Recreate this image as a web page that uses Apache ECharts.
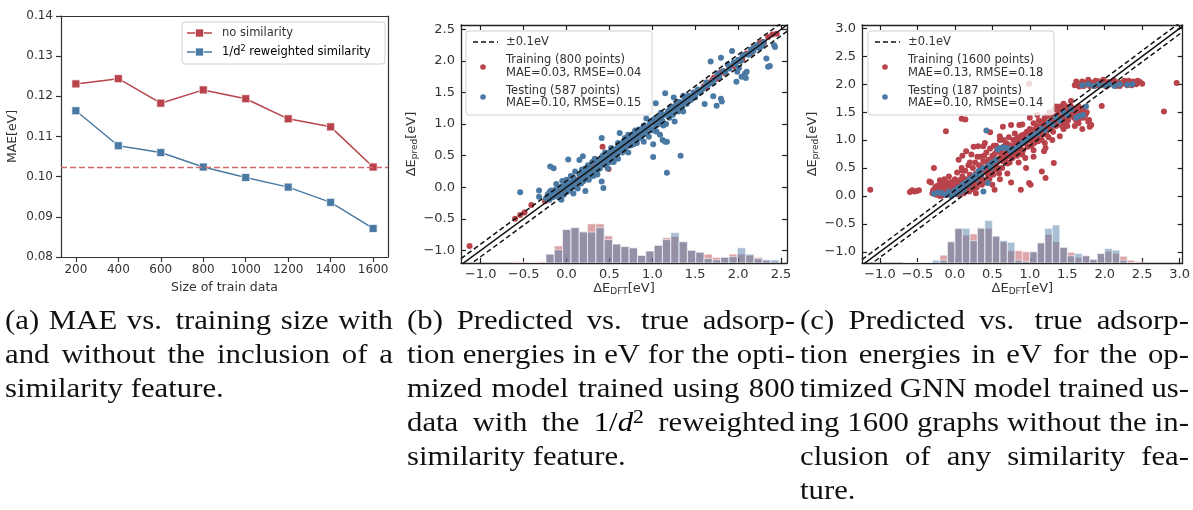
<!DOCTYPE html>
<html>
<head>
<meta charset="utf-8">
<script src="https://cdn.jsdelivr.net/npm/echarts@6/dist/echarts.min.js"></script>
<style>html,body{margin:0;padding:0;background:#fff}#c{width:1193px;height:510px}</style>
</head>
<body>
<div id="c"></div>
<script>
// ---------------- DATA ----------------
const A_SIZES = [200, 400, 600, 800, 1000, 1200, 1400, 1600];
const A_MAE_NOSIM = [0.1231, 0.1244, 0.1183, 0.1216, 0.1194, 0.1144, 0.1124, 0.1024];
const A_MAE_SIM = [0.1164, 0.1077, 0.1060, 0.1024, 0.0998, 0.0974, 0.0936, 0.0871];
const A_BASELINE = 0.1024;
const A_Y_TICKS = [0.08, 0.09, 0.10, 0.11, 0.12, 0.13, 0.14];

const B_TICKS = [-1.0, -0.5, 0.0, 0.5, 1.0, 1.5, 2.0, 2.5];
const C_TICKS = [-1.0, -0.5, 0.0, 0.5, 1.0, 1.5, 2.0, 2.5, 3.0];

const B_TRAIN = [[-1.13,-0.93],[-0.6,-0.5],[-0.54,-0.44],[-0.49,-0.4],[-0.41,-0.28],[-0.25,-0.22],[-0.2,-0.17],[-0.15,-0.12],[-0.1,-0.08],[-0.05,-0.03],[0.0,0.02],[0.05,0.03],[0.1,0.12],[0.15,0.13],[0.2,0.22],[0.25,0.2],[0.34,0.2],[0.3,0.32],[0.4,0.38],[0.42,0.64],[0.49,0.29],[0.5,0.52],[0.6,0.58],[0.7,0.72],[0.8,0.78],[0.86,0.86],[0.9,0.88],[1.0,1.02],[1.1,1.08],[1.2,1.22],[1.3,1.28],[1.4,1.42],[1.5,1.48],[1.6,1.6],[1.64,1.66],[1.68,1.66],[1.72,1.74],[1.76,1.72],[1.8,1.82],[1.85,1.8],[1.9,1.9],[1.95,1.92],[2.0,2.0],[2.05,2.02],[2.1,2.12],[2.15,2.12],[2.2,2.22],[2.25,2.28],[2.3,2.28],[2.35,2.38],[2.4,2.42],[2.45,2.43],[2.18,2.2],[2.28,2.3],[1.62,1.58],[1.7,1.7]];
const B_TEST = [[-0.54,-0.08],[-0.32,-0.05],[-0.32,-0.15],[-0.19,0.33],[-0.15,0.30],[-0.22,-0.12],[-0.2,-0.2],[-0.18,-0.05],[-0.15,-0.1],[-0.12,0.05],[-0.1,-0.15],[-0.08,0.0],[-0.06,-0.2],[-0.05,0.1],[-0.04,-0.02],[-0.02,0.05],[0.0,-0.08],[0.0,0.12],[0.02,0.44],[0.02,0.02],[0.04,-0.05],[0.05,0.18],[0.06,0.08],[0.08,-0.1],[0.08,0.15],[0.1,0.05],[0.1,0.25],[0.12,0.1],[0.13,-0.02],[0.15,0.43],[0.15,0.2],[0.16,0.12],[0.18,0.28],[0.19,0.49],[0.2,0.1],[0.2,0.22],[0.22,-0.06],[0.22,0.3],[0.24,0.18],[0.25,0.35],[0.27,0.2],[0.28,0.3],[0.3,0.4],[0.3,0.22],[0.32,0.28],[0.33,0.45],[0.35,0.32],[0.36,0.2],[0.38,0.42],[0.4,0.35],[0.41,0.78],[0.41,0.09],[0.42,0.5],[0.43,-0.01],[0.44,0.38],[0.45,0.55],[0.47,0.42],[0.48,0.3],[0.5,0.55],[0.5,0.45],[0.52,0.62],[0.54,0.5],[0.55,0.4],[0.57,0.6],[0.58,0.52],[0.6,0.7],[0.6,0.45],[0.62,0.86],[0.63,0.6],[0.65,0.55],[0.66,0.72],[0.68,0.78],[0.68,0.6],[0.7,0.65],[0.72,0.83],[0.72,0.55],[0.74,0.72],[0.76,0.8],[0.78,0.68],[0.8,0.9],[0.8,0.75],[0.82,0.7],[0.84,0.91],[0.85,0.82],[0.87,0.78],[0.89,0.88],[0.9,0.98],[0.9,0.72],[0.92,0.85],[0.93,1.09],[0.95,0.95],[0.96,0.8],[0.98,1.02],[1.0,0.9],[1.01,0.48],[1.01,0.68],[1.02,1.05],[1.03,1.09],[1.04,0.97],[1.04,1.33],[1.05,0.88],[1.07,1.1],[1.08,1.0],[1.09,0.83],[1.1,1.18],[1.12,0.75],[1.12,1.05],[1.14,1.15],[1.15,0.72],[1.15,1.49],[1.16,1.0],[1.17,0.72],[1.17,0.23],[1.18,1.2],[1.2,1.1],[1.22,1.28],[1.24,1.15],[1.25,1.42],[1.26,1.04],[1.27,1.25],[1.3,1.2],[1.32,1.35],[1.33,0.50],[1.35,1.28],[1.36,1.45],[1.36,1.2],[1.38,1.4],[1.4,1.32],[1.42,1.45],[1.45,1.38],[1.48,1.5],[1.5,1.42],[1.53,1.55],[1.56,1.5],[1.6,1.58],[1.61,1.32],[1.65,1.62],[1.68,1.99],[1.7,1.65],[1.71,1.44],[1.75,1.29],[1.78,1.75],[1.8,2.05],[1.8,1.4],[1.81,1.36],[1.85,1.82],[1.9,1.88],[1.93,2.16],[1.95,1.98],[1.98,1.67],[1.99,1.83],[2.0,2.02],[2.01,1.89],[2.04,1.75],[2.05,2.08],[2.08,1.8],[2.09,1.73],[2.1,1.83],[2.12,2.1],[2.15,2.18],[2.2,2.22],[2.25,2.2],[2.3,2.3],[2.33,2.04],[2.35,1.91],[2.37,1.92],[2.42,2.25],[2.43,2.22],
  [-0.24,-0.18],[-0.2,-0.08],[-0.16,-0.16],[-0.13,-0.04],[-0.11,-0.1],[-0.07,-0.1],[-0.03,-0.12],[0.01,-0.03],[0.03,0.08],[0.07,0.02],[0.09,0.12],[0.11,0.0],[0.14,0.08],[0.17,0.06],[0.19,0.18],[0.21,0.14],[0.23,0.25],[0.26,0.12],[0.29,0.26],[0.31,0.18],[0.34,0.38],[0.37,0.28],[0.39,0.3],[0.43,0.46],[0.46,0.35],[0.49,0.48],[0.51,0.4],[0.53,0.56],[0.56,0.47],[0.59,0.62],[0.61,0.55],[0.64,0.66],[0.67,0.58],[0.69,0.74],[0.71,0.68],[0.73,0.76],[0.75,0.66],[0.77,0.84],[0.79,0.74],[0.81,0.82],[0.83,0.78],[0.86,0.92],[0.88,0.82],[0.91,0.9],[0.94,0.86],[0.97,1.0],[0.99,0.92],[1.01,1.06],[1.06,1.02],[1.11,1.12],[1.13,0.98],[1.19,1.12],[1.21,1.25],[1.23,1.18],[1.28,1.32],[1.31,1.26],[1.34,1.3],[1.39,1.36],[1.44,1.42],[1.47,1.44],[1.52,1.5],[1.58,1.55],[1.63,1.66],[1.72,1.7],[1.76,1.8],[1.83,1.84],[1.88,1.95],[1.97,1.95],[2.03,2.0],[2.07,2.1],[2.14,2.12],[2.18,2.16],[2.22,2.25],[2.28,2.24]];

const C_TRAIN = [[-1.13,0.11],[-0.6,0.07],[-0.57,0.1],[-0.54,0.08],[-0.51,0.09],[-0.48,0.1],[-0.34,0.26],[-0.32,0.24],[-0.28,0.5],[-0.3,0.05],[-0.27,0.12],[-0.25,0.02],[-0.24,0.18],[-0.22,0.08],[-0.2,0.28],[-0.2,0.0],[-0.18,0.14],[-0.16,0.22],[-0.15,0.05],[-0.14,0.3],[-0.12,0.1],[-0.1,0.18],[-0.1,0.02],[-0.08,0.35],[-0.06,0.12],[-0.05,0.25],[-0.04,0.06],[-0.02,0.15],[0.0,0.3],[0.0,0.05],[0.02,0.2],[0.03,0.42],[0.05,0.1],[0.06,0.28],[0.08,0.15],[0.09,0.5],[0.1,0.35],[0.12,0.22],[0.12,0.05],[0.14,0.45],[0.15,0.3],[0.16,0.15],[0.18,0.55],[0.2,0.38],[0.22,0.74],[0.22,0.25],[0.24,0.5],[0.25,0.12],[0.27,0.6],[0.28,0.4],[0.3,0.3],[0.31,0.89],[0.32,0.55],[0.34,0.7],[0.35,0.45],[0.36,0.2],[0.38,0.89],[0.38,0.62],[0.4,0.5],[0.42,0.24],[0.42,0.78],[0.44,0.38],[0.45,0.65],[0.47,0.85],[0.48,0.55],[0.5,0.42],[0.5,0.72],[0.52,0.9],[0.53,0.11],[0.54,0.6],[0.56,0.8],[0.58,0.5],[0.6,0.68],[0.6,1.0],[0.62,0.85],[0.64,1.24],[0.64,0.62],[0.66,0.75],[0.68,0.95],[0.7,0.58],[0.7,0.82],[0.72,1.05],[0.74,0.7],[0.75,0.24],[0.75,1.27],[0.76,0.9],[0.78,1.0],[0.8,0.78],[0.8,1.12],[0.82,0.92],[0.84,1.05],[0.86,1.27],[0.86,0.85],[0.88,0.11],[0.88,1.0],[0.9,1.28],[0.9,0.74],[0.92,1.1],[0.94,0.68],[0.94,0.95],[0.96,1.15],[0.98,1.0],[0.99,0.23],[0.99,2.01],[1.0,1.2],[1.01,0.2],[1.02,0.9],[1.04,1.1],[1.05,1.3],[1.06,0.95],[1.08,1.2],[1.1,1.05],[1.12,1.35],[1.14,1.15],[1.16,0.44],[1.16,1.0],[1.18,1.25],[1.19,0.8],[1.2,1.4],[1.21,0.86],[1.21,0.32],[1.22,1.1],[1.24,1.3],[1.26,1.5],[1.28,1.2],[1.3,1.35],[1.32,0.59],[1.33,1.55],[1.35,1.25],[1.37,1.45],[1.4,1.07],[1.4,1.6],[1.42,1.35],[1.45,1.5],[1.48,1.3],[1.5,1.55],[1.52,1.42],[1.55,1.6],[1.58,1.45],[1.6,1.55],[1.62,1.35],[1.65,1.6],[1.67,1.54],[1.69,1.45],[1.72,1.4],[1.78,1.33],[1.79,1.36],[1.8,1.24],[1.82,1.27],[1.96,1.61],[2.79,1.51],[2.96,2.02],[1.6,1.98],[1.63,2.02],[1.66,1.96],[1.7,2.05],[1.74,2.0],[1.78,2.08],[1.8,1.97],[1.84,2.03],[1.88,2.06],[1.9,1.98],[1.94,2.02],[1.98,2.08],[2.02,1.96],[2.05,2.04],[2.08,2.0],[2.12,2.07],[2.15,1.97],[2.18,2.03],[2.22,2.0],[2.26,2.06],[2.3,1.98],[2.34,2.02],[2.38,2.05],[2.42,2.0],[2.47,2.04],[-0.12,1.16],[0.09,1.38],[0.14,1.37],[0.47,1.14],[0.6,1.07],[0.05,0.02],[0.15,0.12],[0.25,0.28],[0.35,0.35],[0.45,0.42],[0.55,0.55],[0.65,0.68],[0.75,0.75],[0.85,0.82],[0.95,0.98],[1.05,1.05],[1.15,1.12],[1.25,1.25],[1.35,1.32],[1.45,1.45],[1.55,1.5],[0.28,0.05],[0.2,0.6],[0.1,0.45],[0.3,0.7],[0.4,0.95],[0.5,0.2],[0.6,0.3],[0.7,0.4],[0.55,0.9],[0.65,1.0],[0.85,0.6],[0.95,0.5],[1.05,0.7],[1.1,1.45],[1.0,1.4],[1.2,0.95],[1.3,1.0],[1.45,1.2],[1.5,1.25],[1.55,1.7],[1.6,1.25],[1.65,1.3],[1.45,1.65],[1.35,1.6],[1.7,1.2],[0.05,0.65],[0.1,0.72],[0.15,0.8],[0.25,0.88],
  [-0.29,0.1],[-0.26,0.16],[-0.23,0.03],[-0.21,0.2],[-0.19,0.07],[-0.17,0.01],[-0.13,0.16],[-0.11,0.24],[-0.09,0.08],[-0.07,0.2],[-0.03,0.1],[-0.01,0.22],[0.01,0.12],[0.04,0.26],[0.07,0.06],[0.09,0.2],[0.11,0.3],[0.13,0.1],[0.17,0.24],[0.19,0.08],[0.21,0.16],[0.23,0.34],[0.26,0.22],[0.29,0.15],
  [0.31,0.36],[0.33,0.25],[0.36,0.52],[0.37,0.3],[0.39,0.72],[0.41,0.44],[0.43,0.6],[0.46,0.3],[0.46,0.5],[0.49,0.65],[0.51,0.38],[0.53,0.75],[0.55,0.48],[0.57,0.62],[0.59,0.4],[0.61,0.78],[0.63,0.5],[0.65,0.88],[0.67,0.65],[0.69,0.72],[0.71,0.92],[0.73,0.6],[0.73,0.8],[0.77,0.68],[0.79,0.88],[0.81,1.0],[0.83,0.72],[0.85,0.95],[0.87,0.9],[0.89,1.08],[0.91,0.82],[0.93,1.02],[0.97,0.88],[0.99,1.1],
  [1.01,1.0],[1.03,1.18],[1.05,0.82],[1.07,1.05],[1.09,1.25],[1.11,0.98],[1.13,1.2],[1.15,1.3],[1.17,1.1],[1.19,1.35],[1.21,1.18],[1.23,1.42],[1.25,1.05],[1.27,1.3],[1.29,1.45],[1.31,1.15],[1.34,1.42],[1.36,1.3],[1.38,1.52],[1.41,1.4],[1.43,1.25],[1.44,1.55],[1.47,1.4],[1.49,1.6],[1.51,1.35],[1.54,1.48],[1.57,1.55],[1.59,1.4],[1.61,1.5],[1.63,1.45],[1.66,1.38],[1.68,1.5],[1.71,1.55],[1.74,1.45],[1.76,1.5],
  [1.62,2.05],[1.68,1.99],[1.72,1.97],[1.76,2.03],[1.82,2.0],[1.86,1.97],[1.92,2.05],[1.96,1.99],[2.0,2.03],[2.04,1.98],[2.1,2.02],[2.14,2.04],[2.2,1.97],[2.24,2.03],[2.28,2.01],[2.32,2.06],[2.36,1.98],[2.4,2.03],[2.44,2.06],[2.5,2.01]];
const C_TEST = [[-0.28,0.04],[-0.22,0.06],[-0.17,0.05],[-0.12,0.02],[-0.08,0.08],[-0.05,0.0],[0.0,0.1],[0.02,0.04],[0.05,0.15],[0.08,0.08],[0.1,0.2],[0.12,0.12],[0.15,0.25],[0.18,0.2],[0.2,0.3],[0.22,0.28],[0.25,0.35],[0.28,0.3],[0.3,0.4],[0.32,0.45],[0.35,0.38],[0.38,0.08],[0.38,0.5],[0.42,1.17],[0.44,0.23],[0.45,0.55],[0.48,0.5],[0.5,0.6],[0.55,0.65],[0.57,0.83],[0.6,0.86],[0.64,0.87],[0.68,0.86],[0.72,0.85],[0.75,0.8],[0.8,0.85],[0.85,0.9],[0.9,0.95],[0.95,1.0],[1.0,1.05],[1.05,1.1],[1.1,1.12],[1.15,1.2],[1.2,1.18],[1.25,1.3],[1.3,1.28],[1.35,1.4],[1.4,1.35],[1.45,1.5],[1.5,1.45],[1.55,1.55],[1.62,1.4],[1.66,1.43],[1.71,1.45],[1.75,1.6],[1.7,1.98],[1.78,2.0],[1.85,1.97],[1.92,2.0],[2.0,1.98],[2.06,2.0],[2.13,1.97],[2.2,2.0],[2.3,1.99],[2.37,2.0]];

// histograms (bin start, bin width, bar heights in eV-axis units above the bottom)
const B_HIST_START = -0.628, B_HIST_WIDTH = 0.097;
const B_HIST_TRAIN = [0.02,0.02,0.015,0.02, 0.14,0.27,0.53,0.56,0.48,0.62,0.62,0.43,0.30,0.26,0.24,0.12,0.19,0.28,0.40,0.42,0.33,0.20,0.17,0.14,0.09,0.09,0.14,0.14,0.12,0.09,0.04,0.02];
const B_HIST_TEST  = [0,0,0,0, 0.14,0.21,0.53,0.56,0.50,0.49,0.56,0.37,0.30,0.26,0.24,0.12,0.19,0.28,0.37,0.48,0.34,0.20,0.17,0.07,0.05,0.09,0.10,0.24,0.14,0.07,0.05,0.05];
const C_HIST_START = -0.70, C_HIST_WIDTH = 0.10;
const C_HIST_TRAIN = [0,0.015,0,0, 0,0.14,0.38,0.62,0.50,0.52,0.63,0.62,0.48,0.38,0.22,0.22,0.20,0.20,0.36,0.51,0.38,0.28,0.19,0.10,0.13,0.07,0.17,0.21,0.17,0.12,0.05,0.03];
const C_HIST_TEST  = [0,0,0,0, 0.05,0.05,0.38,0.62,0.62,0.40,0.62,0.76,0.48,0.40,0.37,0.05,0.03,0.20,0.36,0.62,0.68,0.28,0.13,0.17,0.13,0.06,0.17,0.26,0.23,0.05,0,0];

// ---------------- STYLE / LAYOUT ----------------
const RED = '#b8434b', BLUE = '#4a7aa3';
const A_XLIM = [130, 1670];
const B_XLIM = [-1.23, 2.57], B_YLIM = [-1.2, 2.57];
const C_XLIM = [-1.24, 3.04], C_YLIM = [-1.2, 3.06];
const SANS = 'DejaVu Sans';
const fmt = v => (v < 0 ? '\u2212' : '') + Math.abs(v).toFixed(1);

function histData(start, w, h) { return h.map((v, i) => [start + i * w, start + (i + 1) * w, v]); }
function histSeries(xi, yi, ymin, data, fill) {
  return {
    type: 'custom', xAxisIndex: xi, yAxisIndex: yi, z: 1, silent: true, clip: true,
    data: data,
    renderItem: function (params, api) {
      const p0 = api.coord([api.value(0), ymin]);
      const p1 = api.coord([api.value(1), ymin + api.value(2)]);
      return { type: 'rect', shape: { x: p0[0], y: p1[1], width: p1[0] - p0[0], height: p0[1] - p1[1] },
        style: { fill: fill, stroke: 'rgba(255,255,255,0.55)', lineWidth: 1 } };
    }
  };
}
function diagSeries(xi, yi, xlim, off, dashed) {
  return { type: 'line', xAxisIndex: xi, yAxisIndex: yi, z: 5, silent: true, symbol: 'none', clip: true,
    data: [[xlim[0], xlim[0] + off], [xlim[1], xlim[1] + off]],
    lineStyle: { color: '#111', width: 1.5, type: dashed ? [5, 3] : 'solid' } };
}
function scatterSeries(xi, yi, data, color) {
  return { type: 'scatter', xAxisIndex: xi, yAxisIndex: yi, z: 3, symbolSize: 6, data: data,
    itemStyle: { color: color, opacity: 1 } };
}
const spine = (c, w) => ({ show: true, onZero: false, lineStyle: { color: c, width: w } });

function scatterAxes(gi, xlim, ylim, ticks, xName, yName) {
  const rich = { a: { fontSize: 13, fontFamily: SANS, color: '#333' }, s: { fontSize: 9, fontFamily: SANS, color: '#333', padding: [7, 0, 0, 0] } };
  const tick = { inside: true, length: 5, lineStyle: { color: '#222', width: 1.2 }, customValues: ticks };
  const xs = [
    { gridIndex: gi, type: 'value', position: 'bottom', min: xlim[0], max: xlim[1],
      axisLine: spine('#222', 1.3), splitLine: { show: false }, axisTick: tick,
      axisLabel: { customValues: ticks, formatter: fmt, fontSize: 13, fontFamily: SANS, color: '#333', margin: 5 },
      name: xName, nameLocation: 'middle', nameGap: 17, nameTextStyle: { rich: rich } },
    { gridIndex: gi, type: 'value', position: 'top', min: xlim[0], max: xlim[1],
      axisLine: spine('#222', 1.3), splitLine: { show: false }, axisTick: tick, axisLabel: { show: false } }
  ];
  const ys = [
    { gridIndex: gi, type: 'value', position: 'left', min: ylim[0], max: ylim[1],
      axisLine: spine('#222', 1.3), splitLine: { show: false }, axisTick: tick,
      axisLabel: { customValues: ticks, formatter: fmt, fontSize: 13, fontFamily: SANS, color: '#333', margin: 6 },
      name: yName, nameLocation: 'middle', nameGap: 31, nameTextStyle: { rich: rich } },
    { gridIndex: gi, type: 'value', position: 'right', min: ylim[0], max: ylim[1],
      axisLine: spine('#222', 1.3), splitLine: { show: false }, axisTick: tick, axisLabel: { show: false } }
  ];
  return [xs, ys];
}

const [bx, by] = scatterAxes(1, B_XLIM, B_YLIM, B_TICKS, '{a|ΔE}{s|DFT}{a|[eV]}', '{a|ΔE}{s|pred}{a|[eV]}');
const [cx, cy] = scatterAxes(2, C_XLIM, C_YLIM, C_TICKS, '{a|ΔE}{s|DFT}{a|[eV]}', '{a|ΔE}{s|pred}{a|[eV]}');

const xAxis = [
  { gridIndex: 0, type: 'value', position: 'bottom', min: A_XLIM[0], max: A_XLIM[1],
    axisLine: spine('#333', 1.2), splitLine: { show: false },
    axisTick: { inside: false, length: 5, lineStyle: { color: '#333', width: 1.2 }, customValues: A_SIZES },
    axisLabel: { customValues: A_SIZES, formatter: v => String(v), fontSize: 12, fontFamily: SANS, color: '#333', margin: 7 },
    name: 'Size of train data', nameLocation: 'middle', nameGap: 24,
    nameTextStyle: { fontSize: 12.5, fontFamily: SANS, color: '#333' } },
  { gridIndex: 0, type: 'value', position: 'top', min: A_XLIM[0], max: A_XLIM[1],
    axisLine: spine('#333', 1.2), splitLine: { show: false }, axisTick: { show: false }, axisLabel: { show: false } },
  ...bx, ...cx
];
const yAxis = [
  { gridIndex: 0, type: 'value', position: 'left', min: 0.08, max: 0.14, interval: 0.01,
    axisLine: spine('#333', 1.2), splitLine: { show: false },
    axisTick: { inside: false, length: 5, lineStyle: { color: '#333', width: 1.2 } },
    axisLabel: { formatter: v => v.toFixed(2), fontSize: 12, fontFamily: SANS, color: '#333', margin: 8 },
    name: 'MAE[eV]', nameLocation: 'middle', nameGap: 42,
    nameTextStyle: { fontSize: 12.5, fontFamily: SANS, color: '#333' } },
  { gridIndex: 0, type: 'value', position: 'right', min: 0.08, max: 0.14,
    axisLine: spine('#333', 1.2), splitLine: { show: false }, axisTick: { show: false }, axisLabel: { show: false } },
  ...by, ...cy
];

const series = [
  { type: 'line', xAxisIndex: 0, yAxisIndex: 0, z: 4, data: A_SIZES.map((x, i) => [x, A_MAE_NOSIM[i]]),
    symbol: 'rect', symbolSize: 8, lineStyle: { color: RED, width: 1.5 },
    itemStyle: { color: RED, borderColor: 'rgba(255,255,255,0.7)', borderWidth: 1 },
    markLine: { silent: true, symbol: 'none', precision: 6, label: { show: false }, animation: false,
      lineStyle: { color: '#d0686c', width: 1.4, type: [6, 3] }, data: [{ yAxis: A_BASELINE }] } },
  { type: 'line', xAxisIndex: 0, yAxisIndex: 0, z: 4, data: A_SIZES.map((x, i) => [x, A_MAE_SIM[i]]),
    symbol: 'rect', symbolSize: 8, lineStyle: { color: BLUE, width: 1.5 },
    itemStyle: { color: BLUE, borderColor: 'rgba(255,255,255,0.7)', borderWidth: 1 } },

  histSeries(2, 2, B_YLIM[0], histData(B_HIST_START, B_HIST_WIDTH, B_HIST_TRAIN), 'rgba(184,67,75,0.48)'),
  histSeries(2, 2, B_YLIM[0], histData(B_HIST_START, B_HIST_WIDTH, B_HIST_TEST), 'rgba(74,122,163,0.48)'),
  scatterSeries(2, 2, B_TRAIN, RED),
  scatterSeries(2, 2, B_TEST, BLUE),
  diagSeries(2, 2, B_XLIM, 0, false), diagSeries(2, 2, B_XLIM, 0.1, true), diagSeries(2, 2, B_XLIM, -0.1, true),

  histSeries(4, 4, C_YLIM[0], histData(C_HIST_START, C_HIST_WIDTH, C_HIST_TRAIN), 'rgba(184,67,75,0.48)'),
  histSeries(4, 4, C_YLIM[0], histData(C_HIST_START, C_HIST_WIDTH, C_HIST_TEST), 'rgba(74,122,163,0.48)'),
  scatterSeries(4, 4, C_TRAIN, RED),
  scatterSeries(4, 4, C_TEST, BLUE),
  diagSeries(4, 4, C_XLIM, 0, false), diagSeries(4, 4, C_XLIM, 0.1, true), diagSeries(4, 4, C_XLIM, -0.1, true)
];

// ---------------- LEGENDS (graphic) ----------------
const G = [];
const txt = (x, y, t, size) => G.push({ type: 'text', x: x, y: y, z: 101,
  style: { text: t, fontSize: size, fontFamily: SANS, fill: '#333', verticalAlign: 'middle', align: 'left' } });
// legend a
G.push({ type: 'rect', z: 100, shape: { x: 182, y: 22, width: 203, height: 42, r: 3 }, style: { fill: 'rgba(255,255,255,0.8)', stroke: '#d0d0d0', lineWidth: 1 } });
G.push({ type: 'line', z: 101, shape: { x1: 187, y1: 33, x2: 212, y2: 33 }, style: { stroke: RED, lineWidth: 1.5 } });
G.push({ type: 'rect', z: 102, shape: { x: 195.5, y: 29, width: 8, height: 8 }, style: { fill: RED, stroke: 'rgba(255,255,255,0.7)', lineWidth: 1 } });
G.push({ type: 'line', z: 101, shape: { x1: 187, y1: 52, x2: 212, y2: 52 }, style: { stroke: BLUE, lineWidth: 1.5 } });
G.push({ type: 'rect', z: 102, shape: { x: 195.5, y: 48, width: 8, height: 8 }, style: { fill: BLUE, stroke: 'rgba(255,255,255,0.7)', lineWidth: 1 } });
txt(222, 33, 'no similarity', 11.5);
G.push({ type: 'text', x: 222, y: 52, z: 101, style: { text: '{n|1/d}{s|2}{n| reweighted similarity}', verticalAlign: 'middle',
  rich: { n: { fontSize: 11.5, fontFamily: SANS, color: '#333' }, s: { fontSize: 8, fontFamily: SANS, color: '#333', padding: [0, 0, 7, 0] } } } });

function scatterLegend(x0, l1, l2a, l2b, l3a, l3b) {
  G.push({ type: 'rect', z: 100, shape: { x: x0, y: 31, width: 186, height: 84, r: 3 }, style: { fill: 'rgba(255,255,255,0.8)', stroke: '#d0d0d0', lineWidth: 1 } });
  G.push({ type: 'line', z: 101, shape: { x1: x0 + 7, y1: 42, x2: x0 + 32, y2: 42 }, style: { stroke: '#111', lineWidth: 1.5, lineDash: [5, 3] } });
  G.push({ type: 'circle', z: 101, shape: { cx: x0 + 17, cy: 67, r: 2.8 }, style: { fill: RED } });
  G.push({ type: 'circle', z: 101, shape: { cx: x0 + 17, cy: 97, r: 2.8 }, style: { fill: BLUE } });
  txt(x0 + 40, 42, l1, 11.5);
  txt(x0 + 40, 60, l2a, 11.5); txt(x0 + 40, 73, l2b, 11.5);
  txt(x0 + 40, 91, l3a, 11.5); txt(x0 + 40, 103, l3b, 11.5);
}
scatterLegend(466, '±0.1eV', 'Training (800 points)', 'MAE=0.03, RMSE=0.04', 'Testing (587 points)', 'MAE=0.10, RMSE=0.15');
scatterLegend(868, '±0.1eV', 'Training (1600 points)', 'MAE=0.13, RMSE=0.18', 'Testing (187 points)', 'MAE=0.10, RMSE=0.14');

// ---------------- CAPTIONS ----------------
const CAP_SIZE = 27, CAP_FONT = 'Liberation Serif', CAP_SCALE = 1.14;
const CAPTIONS = [
  { x0: 5, x1: 393, lines: ['(a) MAE vs. training size with', 'and without the inclusion of a', 'similarity feature.'] },
  { x0: 407, x1: 795, lines: ['(b) Predicted vs. true adsorp-', 'tion energies in eV for the opti-', 'mized model trained using 800', 'data with the 1/d^2 reweighted', 'similarity feature.'] },
  { x0: 800, x1: 1189, lines: ['(c) Predicted vs. true adsorp-', 'tion energies in eV for the op-', 'timized GNN model trained us-', 'ing 1600 graphs without the in-', 'clusion of any similarity fea-', 'ture.'] }
];
const cv = document.createElement('canvas').getContext('2d');
function mw(s, font) { cv.font = font; return cv.measureText(s).width * CAP_SCALE; }
const F = CAP_SIZE + 'px "' + CAP_FONT + '"';
const FI = 'italic ' + F;
const FS = Math.round(CAP_SIZE * 0.7) + 'px "' + CAP_FONT + '"';
CAPTIONS.forEach(col => {
  col.lines.forEach((line, li) => {
    const words = line.split(/ +/);
    const widths = words.map(w => w === '1/d^2' ? mw('1/', F) + mw('d', FI) + mw('2', FS) : mw(w, F));
    const last = li === col.lines.length - 1;
    const total = widths.reduce((a, b) => a + b, 0);
    const weights = words.slice(0, -1).map(w => /\.$/.test(w) ? 1.4 : 1);
    const wsum = weights.reduce((a, b) => a + b, 0);
    const unit = last ? mw(' ', F) : (col.x1 - col.x0 - total) / wsum;
    let x = col.x0;
    const y = 322 + 34 * li;
    words.forEach((w, wi) => {
      if (w === '1/d^2') {
        G.push({ type: 'text', x: x, y: y, z: 101, scaleX: CAP_SCALE, style: { text: '{n|1/}{i|d}{s|2}', verticalAlign: 'middle',
          rich: { n: { fontSize: CAP_SIZE, fontFamily: CAP_FONT, color: '#111' },
                  i: { fontSize: CAP_SIZE, fontFamily: CAP_FONT, fontStyle: 'italic', color: '#111' },
                  s: { fontSize: Math.round(CAP_SIZE * 0.7), fontFamily: CAP_FONT, color: '#111', padding: [0, 0, 12, 0] } } } });
      } else {
        G.push({ type: 'text', x: x, y: y, z: 101, scaleX: CAP_SCALE, style: { text: w, fontSize: CAP_SIZE, fontFamily: CAP_FONT, fill: '#111', verticalAlign: 'middle', align: 'left' } });
      }
      x += widths[wi] + (wi < weights.length ? (last ? unit : unit * weights[wi]) : 0);
    });
  });
});

const chart = echarts.init(document.getElementById('c'), null, { renderer: 'canvas' });
chart.setOption({
  backgroundColor: '#fff', animation: false,
  grid: [
    { left: 61, top: 16, width: 327, height: 241 },
    { left: 461, top: 25, width: 326, height: 238 },
    { left: 862, top: 25, width: 326, height: 238 }
  ],
  xAxis: xAxis, yAxis: yAxis, series: series, graphic: { elements: G }
});
</script>
</body>
</html>
